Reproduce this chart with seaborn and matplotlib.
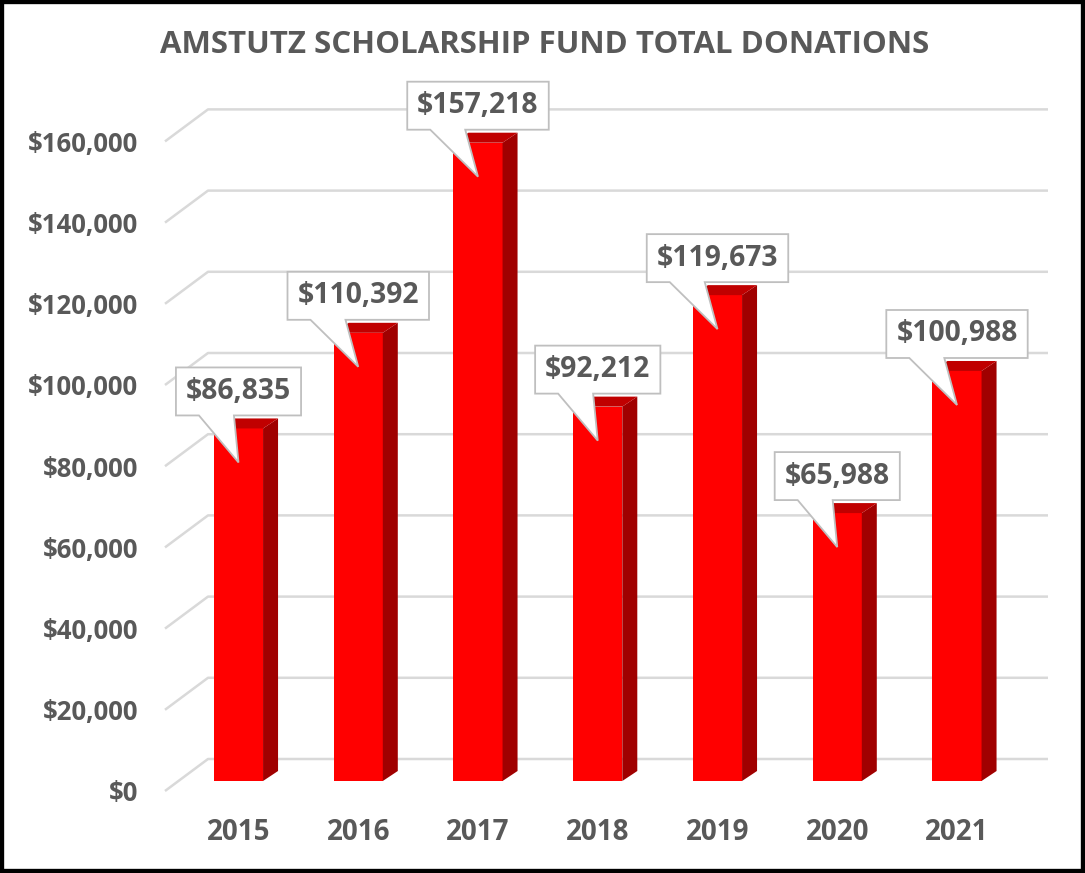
import matplotlib
matplotlib.use("Agg")
import matplotlib.pyplot as plt
from matplotlib.patches import Polygon, Rectangle
import seaborn as sns
import pandas as pd

# chart data
years = ["2015", "2016", "2017", "2018", "2019", "2020", "2021"]
donations = [86835, 110392, 157218, 92212, 119673, 65988, 100988]
y_ticks = [0, 20000, 40000, 60000, 80000, 100000, 120000, 140000, 160000]
title = "AMSTUTZ SCHOLARSHIP FUND TOTAL DONATIONS"

FRONT = "#FF0000"
SIDE = "#A00000"
TOP = "#C00000"
GRAY = "#595959"
GRID = "#D9D9D9"

sns.set_style("white")
plt.rcParams["font.family"] = ["Open Sans", "DejaVu Sans"]
plt.rcParams["font.weight"] = "bold"

W, H = 1085, 873
fig = plt.figure(figsize=(W / 100, H / 100), dpi=100)
# plot area in pixels (left, right, top, bottom)
ax_l, ax_r, ax_t, ax_b = 165, 1048, 100, 800
ax = fig.add_axes([ax_l / W, 1 - ax_b / H, (ax_r - ax_l) / W, (ax_b - ax_t) / H])

df = pd.DataFrame({"year": years, "total": donations})
sns.barplot(data=df, x="year", y="total", color=FRONT, saturation=1,
            width=0.41, linewidth=0, ax=ax, zorder=3)

# scale: pixels per category step / per dollar, where the bar baseline sits
step_px, first_px, base_px, k = 119.75, 238.5, 781, 0.00406
ax.set_xlim((ax_l - first_px) / step_px, (ax_r - first_px) / step_px)
ax.set_ylim(-(ax_b - base_px) / k, (base_px - ax_t) / k)
dx = lambda px: px / step_px
dy = lambda px: px / k
x0, x1 = ax.get_xlim()

# perspective gridlines (front edge -> back wall)
for v in y_ticks:
    ax.plot([x0, x0 + dx(43), x1], [v - dy(10), v + dy(22), v + dy(22)],
            color=GRID, lw=1.8, zorder=1, clip_on=False, solid_capstyle="butt")

# 3d side and top faces
depth_x, depth_y = dx(15), dy(10)
for p in ax.patches[:len(donations)]:
    bx0 = p.get_x()
    bx1 = bx0 + p.get_width()
    h = p.get_height()
    ax.add_patch(Polygon([(bx1, 0), (bx1 + depth_x, depth_y), (bx1 + depth_x, h + depth_y), (bx1, h)],
                         closed=True, facecolor=SIDE, edgecolor="none", zorder=3))
    ax.add_patch(Polygon([(bx0, h), (bx0 + depth_x, h + depth_y), (bx1 + depth_x, h + depth_y), (bx1, h)],
                         closed=True, facecolor=TOP, edgecolor="none", zorder=3))

# callout data labels
renderer = fig.canvas.get_renderer()
for p, val in zip(ax.patches[:len(donations)], donations):
    cx = p.get_x() + p.get_width() / 2
    h = p.get_height()
    t = ax.text(cx, h + dy(37), f"${val:,}", ha="center", va="center",
                fontsize=20.3, color=GRAY, fontweight="bold", zorder=6)
    tw = t.get_window_extent(renderer).width
    hw = dx((tw + 20) / 2)
    left, right = cx - hw, cx + hw
    bot, top = h + dy(13), h + dy(61)
    ax.add_patch(Polygon([(left, bot), (left + dx(23), bot), (cx, h - dy(34)),
                          (left + dx(58), bot), (right, bot), (right, top), (left, top)],
                         closed=True, facecolor="white", edgecolor="#BFBFBF",
                         lw=1.3, zorder=5, clip_on=False))

ax.set_yticks([v - dy(10) for v in y_ticks], labels=[f"${v:,}" for v in y_ticks])
ax.tick_params(axis="y", length=0, pad=27 * 0.72, labelsize=18.5, labelcolor=GRAY)
ax.tick_params(axis="x", length=0, pad=13, labelsize=20, labelcolor=GRAY)
ax.set_xlabel("")
ax.set_ylabel("")
sns.despine(ax=ax, left=True, bottom=True)

fig.text(545 / W, 1 - 45 / H, title, ha="center", va="center",
         fontsize=22.5, color=GRAY, fontweight="bold")

fig.add_artist(Rectangle((0, 0), 1, 1, transform=fig.transFigure, fill=False,
                         edgecolor="black", lw=6))

fig.savefig("out.png", dpi=100)
